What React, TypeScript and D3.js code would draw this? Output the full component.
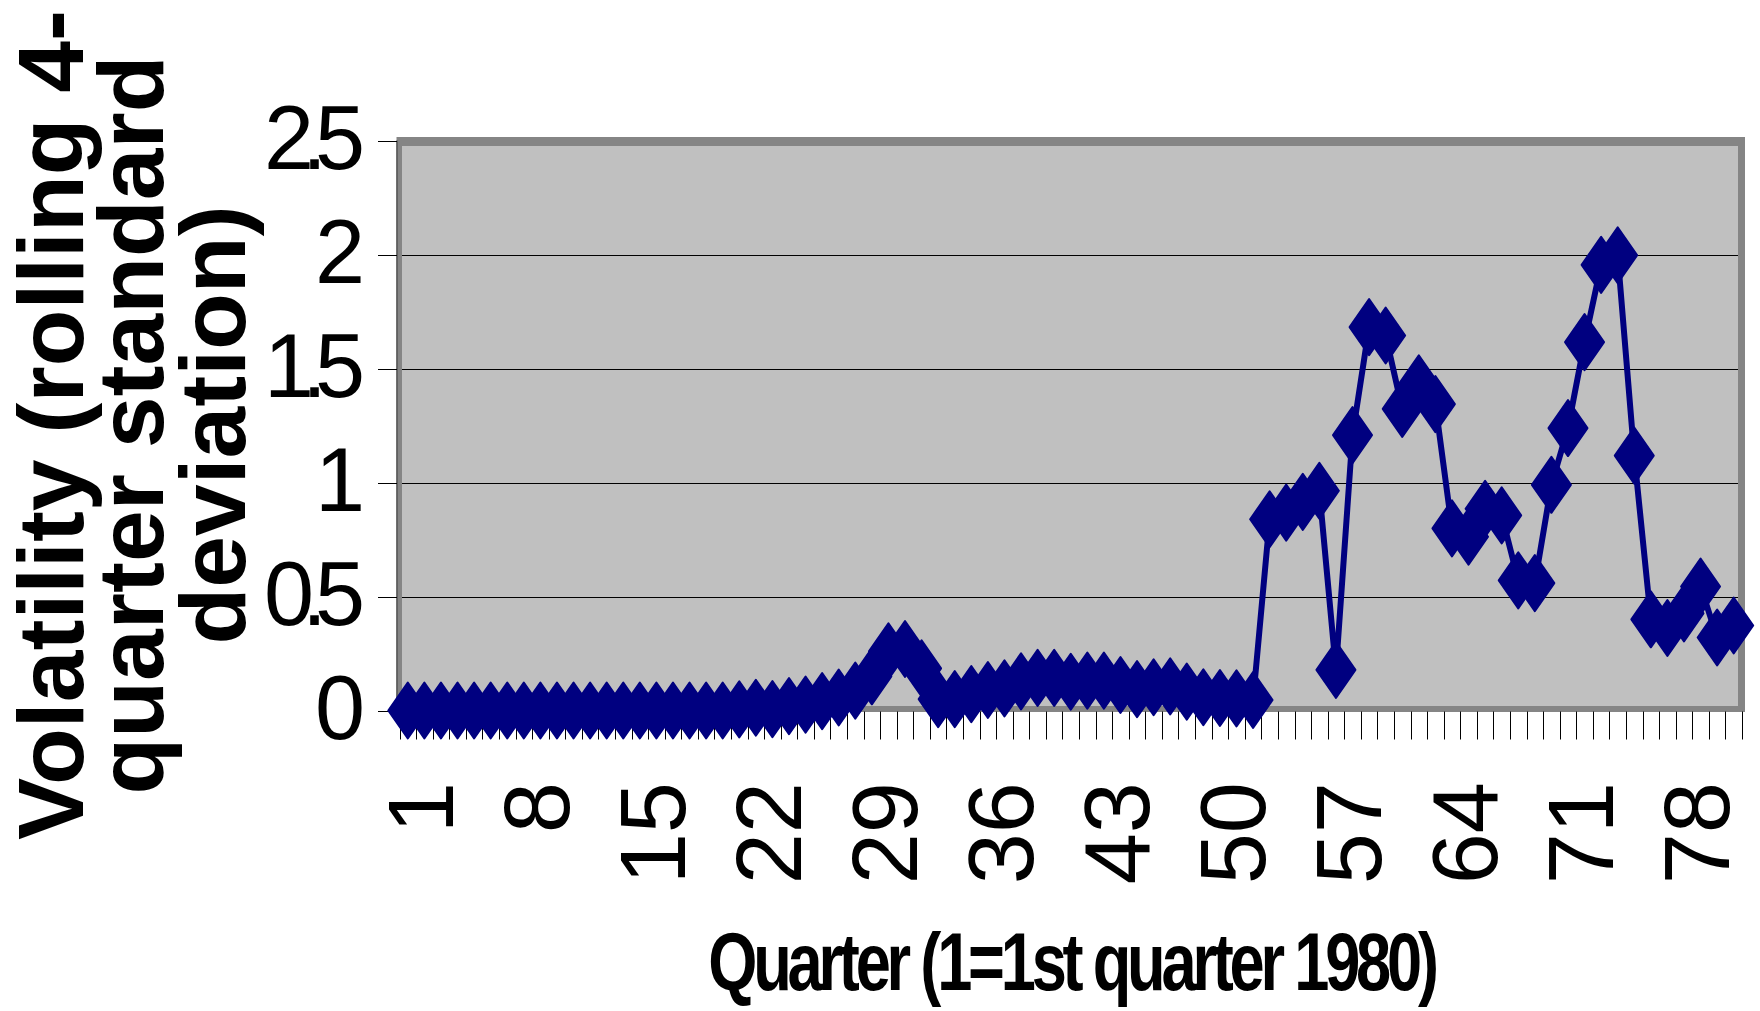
import React from "react";
import * as d3 from "d3";

// ---- data ----
const quarters: number[] = Array.from({ length: 81 }, (_, i) => i + 1);
const volatility: number[] = [
  0, 0, 0, 0, 0, 0, 0, 0, 0, 0,
  0, 0, 0, 0, 0, 0, 0, 0, 0, 0,
  0.005, 0.012, 0.006, 0.019, 0.026, 0.041, 0.057, 0.087, 0.15, 0.26,
  0.27, 0.185, 0.05, 0.05, 0.072, 0.09, 0.097, 0.128, 0.143, 0.143,
  0.126, 0.131, 0.131, 0.112, 0.094, 0.102, 0.106, 0.083, 0.058, 0.055,
  0.053, 0.046, 0.839, 0.868, 0.915, 0.964, 0.178, 1.208, 1.682, 1.645,
  1.323, 1.435, 1.344, 0.799, 0.762, 0.885, 0.856, 0.571, 0.559, 0.99,
  1.239, 1.616, 1.955, 1.997, 1.118, 0.4, 0.362, 0.426, 0.544, 0.32,
  0.373,
];
const yTicks: number[] = [0, 0.5, 1, 1.5, 2, 2.5];
const xTickLabels: number[] = [1, 8, 15, 22, 29, 36, 43, 50, 57, 64, 71, 78];
const yTitleLines: string[] = ["Volatility (rolling 4-", "quarter standard", "deviation)"];
const xTitle = "Quarter (1=1st quarter 1980)";

const W = 1760;
const H = 1011;
const FONT = "'Liberation Sans', Arial, sans-serif";
const NAVY = "#000080";

export default function App() {
  const left = 399.5;
  const right = 1742;
  const top = 140.6;
  const bottom = 710.5;

  const x = d3.scaleBand<number>().domain(quarters).range([left, right]).padding(0);
  const y = d3.scaleLinear().domain([0, 2.5]).range([bottom, top]);
  const cx = (q: number) => (x(q) as number) + x.bandwidth() / 2;

  const line = d3
    .line<number>()
    .x((_, i) => cx(quarters[i]))
    .y((d) => y(d));

  const hw = 19.5;
  const hh = 28;
  const diamond = `M0,${-hh}L${hw},0L0,${hh}L${-hw},0Z`;

  const boundaries = d3.range(quarters.length + 1).map((k) => left + k * x.step());

  return (
    <svg
      width={W}
      height={H}
      style={{ position: "absolute", left: 0, top: 0, background: "#fff" }}
      fontFamily={FONT}
    >
      <rect x={0} y={0} width={W} height={H} fill="#ffffff" />
      {/* plot area with border */}
      <rect x={396.5} y={137} width={1745 - 396.5} height={712 - 137} fill="#858585" />
      <rect x={402} y={146} width={1738 - 402} height={706 - 146} fill="#c0c0c0" />
      <line x1={397} x2={397} y1={top} y2={bottom} stroke="#555" strokeWidth={1.5} />

      {/* gridlines */}
      {yTicks
        .filter((t) => t > 0 && t < 2.5)
        .map((t) => (
          <line key={"g" + t} x1={402} x2={1738} y1={Math.round(y(t)) + 0.5} y2={Math.round(y(t)) + 0.5} stroke="#000" strokeWidth={1} />
        ))}

      {/* y ticks */}
      {yTicks.map((t) => (
        <g key={"yt" + t}>
          <line x1={378} x2={397} y1={Math.round(y(t)) + 0.5} y2={Math.round(y(t)) + 0.5} stroke="#000" strokeWidth={1} />
          <text
            x={353}
            y={y(t) + 28}
            textAnchor="end"
            fontSize={90}
            letterSpacing={-12}
            fill="#000"
          >
            {String(t)}
          </text>
        </g>
      ))}

      {/* x ticks */}
      {boundaries.map((b, k) => (
        <line key={"xt" + k} x1={Math.round(b) + 0.5} x2={Math.round(b) + 0.5} y1={711.5} y2={739.5} stroke="#000" strokeWidth={1} />
      ))}
      {xTickLabels.map((q) => (
        <text
          key={"xl" + q}
          transform={`translate(${cx(q) + 45.5},782) rotate(-90)`}
          textAnchor="end"
          fontSize={92}
          fill="#000"
        >
          {String(q)}
        </text>
      ))}

      {/* series */}
      <path d={line(volatility) || ""} fill="none" stroke={NAVY} strokeWidth={6} strokeLinejoin="round" />
      {volatility.map((v, i) => (
        <path
          key={"m" + i}
          d={diamond}
          transform={`translate(${cx(quarters[i])},${y(v)})`}
          fill={NAVY}
          stroke={NAVY}
          strokeWidth={2}
          strokeLinejoin="round"
        />
      ))}

      {/* y title */}
      {yTitleLines.map((s, i) => (
        <text
          key={"yt" + i}
          transform={`translate(${[82.7, 163, 245][i]},425) rotate(-90)`}
          textAnchor="middle"
          fontSize={93}
          fontWeight="bold"
          fill="#000"
        >
          {s}
        </text>
      ))}

      {/* x title */}
      <text
        transform="translate(1071.5,990) scale(0.78,1)"
        textAnchor="middle"
        fontSize={81}
        fontWeight="bold"
        letterSpacing={-5.4}
        fill="#000"
      >
        {xTitle}
      </text>
    </svg>
  );
}
